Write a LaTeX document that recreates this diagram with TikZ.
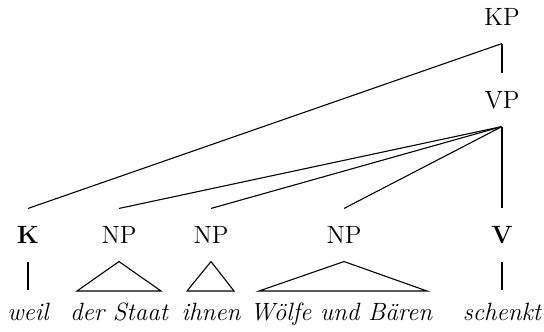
\documentclass[tikz,border=0pt]{standalone}
\usetikzlibrary{positioning}

\begin{document}
\begin{tikzpicture}[x=0.5pt, y=-0.5pt, line width=0.55pt,
  cat/.style={inner sep=0pt, minimum height=26pt, font=\fontsize{12.5}{14}\selectfont},
  word/.style={inner sep=0pt, minimum height=24pt, text height=1.6ex, text depth=0.3ex, font=\fontsize{12.5}{14}\selectfont\itshape}]
\useasboundingbox (0,0) rectangle (544,331);
% categories
\node[cat] (kp) at (502,17) {KP};
\node[cat] (vp) at (502,100) {VP};
\node[cat] (k) at (28,235) {\textbf{K}};
\node[cat] (np1) at (119,235) {NP};
\node[cat] (np2) at (211,235) {NP};
\node[cat] (np3) at (344,235) {NP};
\node[cat] (v) at (502,235) {\textbf{V}};
% words
\node[word] (weil) at (28,315) {weil};
\node[word] (staat) at (119,315) {der Staat};
\node[word] (ihnen) at (211,315) {ihnen};
\node[word] (woelfe) at (341,315) {Wölfe und Bären};
\node[word] (schenkt) at (502,315) {schenkt};
% triangle corners
\coordinate (s1) at (77,291);
\coordinate (s2) at (161,291);
\coordinate (i1) at (187,291);
\coordinate (i2) at (234,291);
\coordinate (w1) at (259,291);
\coordinate (w2) at (427,291);
% branches
\draw (kp.south) -- (vp.north);
\draw (kp.south) -- (k.north);
\draw (vp.south) -- (np1.north);
\draw (vp.south) -- (np2.north);
\draw (vp.south) -- (np3.north);
\draw (vp.south) -- (v.north);
\draw (k.south) -- (weil.north);
\draw (v.south) -- (schenkt.north);
\draw (np1.south) -- (s1) -- (s2) -- cycle;
\draw (np2.south) -- (i1) -- (i2) -- cycle;
\draw (np3.south) -- (w1) -- (w2) -- cycle;
\end{tikzpicture}
\end{document}
